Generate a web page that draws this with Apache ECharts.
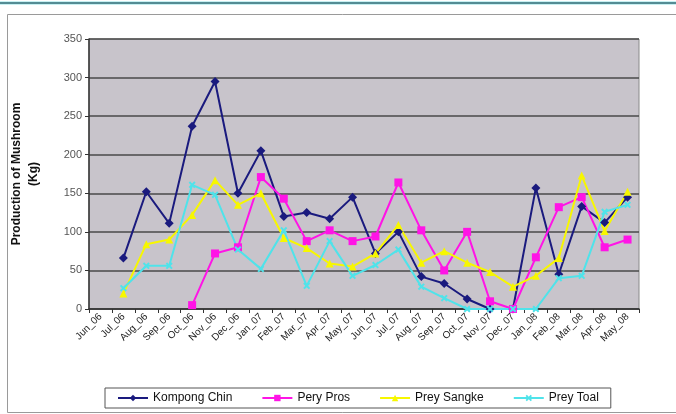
<!DOCTYPE html>
<html>
<head>
<meta charset="utf-8">
<script src="https://cdn.jsdelivr.net/npm/echarts@6/dist/echarts.min.js"></script>
<style>
  html, body { margin: 0; padding: 0; background: #fff; }
  #main { width: 676px; height: 414px; }
</style>
</head>
<body>
<div id="main"></div>
<script>
var months = ['Jun_06','Jul_06','Aug_06','Sep_06','Oct_06','Nov_06','Dec_06','Jan_07','Feb_07','Mar_07','Apr_07','May_07',
              'Jun_07','Jul_07','Aug_07','Sep_07','Oct_07','Nov_07','Dec_07','Jan_08','Feb_08','Mar_08','Apr_08','May_08'];
var kompongChin = [null,66,152,111,237,295,150,205,120,125,117,145,72,100,42,33,13,0,0,157,45,133,112,145];
var peryPros    = [null,null,null,null,5,72,80,171,143,88,102,88,94,164,102,50,100,10,0,67,132,145,80,90];
var preySangke  = [null,20,84,90,122,167,135,150,92,79,59,55,72,109,60,75,60,48,29,43,66,173,101,152];
var preyToal    = [null,27,56,56,161,148,77,52,102,30,88,43,57,77,29,14,0,0,0,0,40,43,126,135];

var crossPath = 'path://M0,2 L2,0 L5,3 L8,0 L10,2 L7,5 L10,8 L8,10 L5,7 L2,10 L0,8 L3,5 Z';

function mkSeries(name, data, color, symbol, size) {
    return {
        name: name,
        type: 'line',
        data: data,
        symbol: symbol,
        symbolSize: size,
        showAllSymbol: true,
        connectNulls: false,
        animation: false,
        lineStyle: { color: color, width: 2 },
        itemStyle: { color: color, borderWidth: 0 }
    };
}

var chart = echarts.init(document.getElementById('main'));
var option = {
    backgroundColor: '#fff',
    textStyle: { fontFamily: 'Liberation Sans, Arial, sans-serif' },
    graphic: [
        { type: 'rect', shape: { x: 0, y: 1, width: 676, height: 4 }, style: { fill: '#c8f0f2' }, silent: true },
        { type: 'line', shape: { x1: 0, y1: 3, x2: 676, y2: 3 }, style: { stroke: '#2e6b74', lineWidth: 1.5 }, silent: true },
        { type: 'rect', shape: { x: 7.5, y: 14.5, width: 700, height: 398 }, style: { fill: 'none', stroke: '#9a9a9a', lineWidth: 1 }, silent: true }
    ],
    grid: {
        left: 88, right: 37, top: 39, bottom: 105,
        show: true,
        backgroundColor: '#c8c4cb',
        borderColor: '#8a8a8a',
        borderWidth: 1
    },
    legend: {
        left: 105, top: 388,
        padding: [4, 12],
        itemGap: 29,
        itemWidth: 30,
        itemHeight: 8,
        borderColor: '#555',
        borderWidth: 1,
        textStyle: { fontSize: 12, color: '#111' },
        data: ['Kompong Chin', 'Pery Pros', 'Prey Sangke', 'Prey Toal']
    },
    xAxis: {
        type: 'category',
        data: months,
        boundaryGap: true,
        axisLine: { lineStyle: { color: '#333', width: 1.5 } },
        axisTick: { show: true, length: 4, lineStyle: { color: '#333' } },
        axisLabel: { rotate: 45, fontSize: 10, color: '#222', margin: 6, interval: 0 },
        splitLine: { show: false }
    },
    yAxis: {
        type: 'value',
        min: 0, max: 350, interval: 50,
        name: 'Production of Mushroom\n(Kg)',
        nameLocation: 'middle',
        nameGap: 47,
        nameRotate: 90,
        nameTextStyle: { fontSize: 12, fontWeight: 'bold', color: '#111', lineHeight: 17 },
        axisLine: { show: true, lineStyle: { color: '#333', width: 1.5 } },
        axisTick: { show: true, length: 4, lineStyle: { color: '#333' } },
        axisLabel: { fontSize: 11, color: '#555', margin: 7 },
        splitLine: { lineStyle: { color: '#4a4a4a', width: 1.5 } }
    },
    series: [
        mkSeries('Kompong Chin', kompongChin, '#1a1a7e', 'diamond', 9),
        mkSeries('Pery Pros', peryPros, '#ff14e6', 'rect', 8),
        mkSeries('Prey Sangke', preySangke, '#f7f700', 'triangle', 8),
        mkSeries('Prey Toal', preyToal, '#4fe3ea', crossPath, 7)
    ]
};
chart.setOption(option);
window.addEventListener('resize', function() {
    chart.resize();
});
</script>
</body>
</html>
